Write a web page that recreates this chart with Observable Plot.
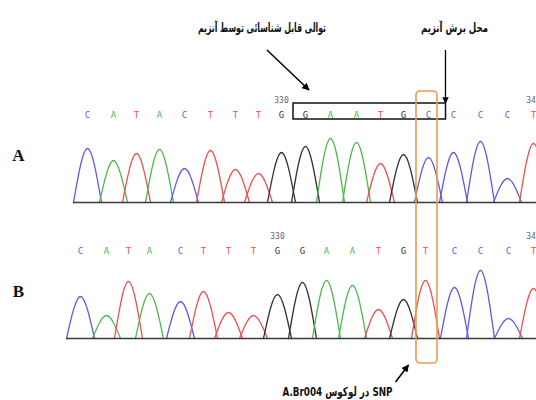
<!DOCTYPE html>
<html>
<head>
<meta charset="utf-8">
<script src="https://cdn.jsdelivr.net/npm/d3@7"></script>
<script src="https://cdn.jsdelivr.net/npm/@observablehq/plot@0.6"></script>
<style>
  html, body { margin: 0; padding: 0; background: #fff; }
  #chart { width: 536px; height: 400px; overflow: hidden; }
</style>
</head>
<body>
<div id="chart"></div>
<script>
// ---- data ----
const panels = ["A", "B"];
const firstBaseNumber = 322;
const seqA = ["C","A","T","A","C","T","T","T","G","G","A","A","T","G","C","C","C","C","T"];
const seqB = ["C","A","T","A","C","T","T","T","G","G","A","A","T","G","T","C","C","C","T"];
// trace (scan) position of each called peak
const posA = [87,113,136,159,184,210,235,258,281,305,330,356,380,403,428,453,480,507,533];
const posB = [80,106,128,149,180,203,228,253,277,302,326,352,378,403,425,454,480,508,533];
// peak intensities
const heightA = [54,42,49,53,34,52,33,29,50,56,64,60,39,48,45,50,61,24,59];
const heightB = [42,23,57,45,37,47,26,23,44,56,58,53,29,39,58,51,68,20,50];
const snpIndex = 14;
const siteStart = 9, siteEnd = 14; // GAATGC recognition sequence (index range)
const baseDomain = ["A","C","G","T"];
const baseColors = ["#4cb84c", "#5c5ce2", "#333333", "#ee5050"];
const textSite = "توالی قابل شناسائی توسط آنزیم";
const textCut = "محل برش آنزیم";
const textSnp = "SNP در لوکوس A.Br004";

// ---- tables ----
const traces = {A: {seq: seqA, pos: posA, h: heightA}, B: {seq: seqB, pos: posB, h: heightB}};
const peaks = [];
for (const p of panels) {
  const t = traces[p];
  t.seq.forEach((b, i) => peaks.push({panel: p, i, base: b, pos: t.pos[i], h: t.h[i], num: firstBaseNumber + i}));
}
const hw = 14; // half width of a peak at its base (style)
const peakPts = [];
peaks.forEach((d, k) => {
  peakPts.push({id: k, panel: d.panel, base: d.base, x: d.pos - hw, y: 0});
  peakPts.push({id: k, panel: d.panel, base: d.base, x: d.pos, y: d.h});
  peakPts.push({id: k, panel: d.panel, base: d.base, x: d.pos + hw, y: 0});
});
const baselines = panels.map(p => ({panel: p, x1: traces[p].pos[0] - hw, x2: 540}));
const numbered = peaks.filter(d => d.num % 10 === 0);

const W = 536, H = 400;
const step = 136, bw = 107;
const plot = Plot.plot({
  width: W, height: H,
  marginTop: 95, marginBottom: 62, marginLeft: 0, marginRight: 0,
  x: {domain: [0, W], axis: null},
  y: {domain: [0, bw], axis: null},
  fy: {domain: panels, paddingInner: (step - bw) / step, paddingOuter: 0, axis: null},
  color: {domain: baseDomain, range: baseColors},
  style: {background: "#fff"},
  marks: [
    Plot.line(peakPts, {x: "x", y: "y", z: "id", fy: "panel", stroke: "base", curve: "natural", strokeWidth: 1.3}),
    Plot.ruleY(baselines, {y: 0, x1: "x1", x2: "x2", fy: "panel", stroke: "#3a3a3a", strokeWidth: 1.6}),
    Plot.text(peaks, {x: "pos", fy: "panel", text: "base", fill: "base", frameAnchor: "top", dy: 16,
      fontFamily: "DejaVu Sans Mono", fontSize: 9}),
    Plot.text(numbered, {x: "pos", fy: "panel", text: d => String(d.num), fill: "#666", frameAnchor: "top", dy: 2,
      fontFamily: "DejaVu Sans Mono", fontSize: 8}),
    Plot.text(panels, {fy: d => d, text: d => d, frameAnchor: "top-left", dx: 18, dy: 53,
      textAnchor: "middle", fontFamily: "Liberation Serif", fontWeight: "bold", fontSize: 17, fill: "#111"})
  ]
});
document.getElementById("chart").appendChild(plot);

// ---- annotations, positioned with the plot's own scales ----
const sx = plot.scale("x"), sfy = plot.scale("fy");
const X = v => sx.apply(v);
const topA = sfy.apply("A"), topB = sfy.apply("B");
const baseA = topA + bw, baseB = topB + bw;
const svg = d3.select(plot);
const defs = svg.append("defs");
defs.append("marker").attr("id", "ah").attr("viewBox", "0 0 10 10").attr("refX", 9).attr("refY", 5)
  .attr("markerWidth", 5).attr("markerHeight", 5).attr("orient", "auto-start-reverse")
  .append("path").attr("d", "M0,0 L10,5 L0,10 z").attr("fill", "#000");
const g = svg.append("g");

// recognition-site box (panel A letter row)
const bx1 = (X(posA[siteStart - 1]) + X(posA[siteStart])) / 2;
const bx2 = X(posA[siteEnd]) + 0.7 * (X(posA[siteEnd + 1]) - X(posA[siteEnd]));
g.append("rect").attr("x", bx1).attr("y", topA + 8).attr("width", bx2 - bx1).attr("height", 16)
  .attr("fill", "none").attr("stroke", "#111").attr("stroke-width", 1.5);

// SNP box spanning both panels
const snpX = (X(posA[snpIndex]) + X(posB[snpIndex])) / 2;
g.append("rect").attr("x", snpX - 10.5).attr("y", topA - 4).attr("width", 21).attr("height", baseB + 25 - (topA - 4))
  .attr("rx", 4).attr("fill", "none").attr("stroke", "#ec9a52").attr("stroke-width", 1.6);

// arrows
g.append("line").attr("x1", bx1 - 26).attr("y1", 50).attr("x2", bx1 + 16).attr("y2", topA - 5)
  .attr("stroke", "#000").attr("stroke-width", 1.5).attr("marker-end", "url(#ah)");
g.append("line").attr("x1", bx2).attr("y1", 50).attr("x2", bx2).attr("y2", topA + 8)
  .attr("stroke", "#000").attr("stroke-width", 1.3).attr("marker-end", "url(#ah)");
g.append("line").attr("x1", snpX - 31).attr("y1", baseB + 44).attr("x2", snpX - 18).attr("y2", baseB + 27)
  .attr("stroke", "#000").attr("stroke-width", 1.5).attr("marker-end", "url(#ah)");

// texts
const ar = (x, y, s, len) => g.append("text").attr("x", x).attr("y", y).attr("direction", "rtl")
  .attr("text-anchor", "middle").attr("font-family", "DejaVu Sans").attr("font-weight", "bold")
  .attr("font-size", 12.5).attr("fill", "#111").attr("textLength", len)
  .attr("lengthAdjust", "spacingAndGlyphs").text(s);
ar(bx1 - 31, 32, textSite, 128);
ar(bx2 + 9, 32, textCut, 67);
ar(snpX - 89, baseB + 58, textSnp, 110);
</script>
</body>
</html>
